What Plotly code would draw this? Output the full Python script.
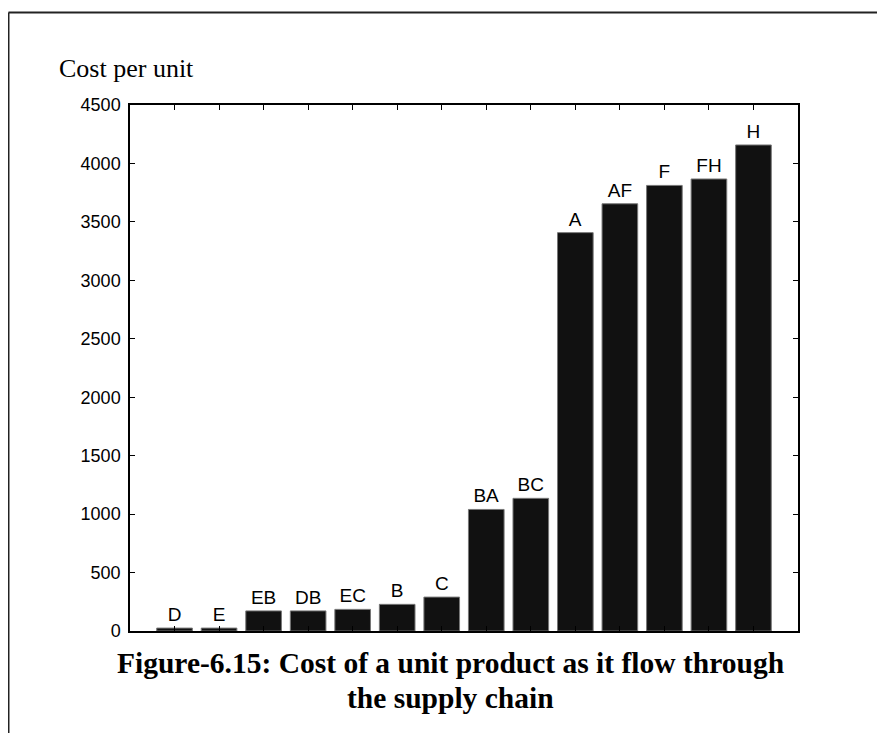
import plotly.graph_objects as go

categories = ["D", "E", "EB", "DB", "EC", "B", "C", "BA", "BC", "A", "AF", "F", "FH", "H"]
costs = [25, 25, 172, 172, 185, 228, 290, 1040, 1135, 3408, 3655, 3812, 3867, 4158]
positions = list(range(1, len(categories) + 1))
y_ticks = [0, 500, 1000, 1500, 2000, 2500, 3000, 3500, 4000, 4500]

y_title = "Cost per unit"
caption_line1 = "Figure-6.15: Cost of a unit product as it flow through"
caption_line2 = "the supply chain"

serif = "Liberation Serif, Times New Roman"
sans = "Liberation Sans, Arial"

fig = go.Figure()
fig.add_trace(go.Bar(
    x=positions, y=costs, width=0.8,
    text=categories, textposition="outside", cliponaxis=False,
    constraintext="none",
    textfont=dict(family=sans, size=19, color="black"),
    marker=dict(color="#111111", line=dict(color="#777777", width=1)),
    showlegend=False, hoverinfo="x+y",
))

fig.update_layout(
    width=877, height=725,
    margin=dict(l=122, r=87, t=97, b=102),
    paper_bgcolor="white", plot_bgcolor="white",
    xaxis=dict(range=[0, 15], tickvals=positions, showticklabels=False,
               ticks="inside", ticklen=5, tickcolor="black", tickwidth=1,
               showline=True, linecolor="black", linewidth=1.5, mirror="ticks",
               showgrid=False, zeroline=False, fixedrange=True),
    yaxis=dict(range=[0, 4500], tickvals=y_ticks, ticks="inside", ticklen=5,
               tickcolor="black", tickwidth=1,
               tickfont=dict(family=sans, size=18, color="black"),
               ticklabelstandoff=4,
               showline=True, linecolor="black", linewidth=1.5, mirror="ticks",
               showgrid=False, zeroline=False, fixedrange=True),
    annotations=[
        dict(text=y_title, xref="paper", yref="paper", x=-0.1093, y=1.0703,
             xanchor="left", yanchor="middle", showarrow=False,
             font=dict(family=serif, size=26, color="black")),
        dict(text="<b>" + caption_line1 + "</b>", xref="paper", yref="paper", x=0.4805, y=-0.0608,
             xanchor="center", yanchor="middle", showarrow=False,
             font=dict(family=serif, size=29.5, color="black")),
        dict(text="<b>" + caption_line2 + "</b>", xref="paper", yref="paper", x=0.4805, y=-0.1274,
             xanchor="center", yanchor="middle", showarrow=False,
             font=dict(family=serif, size=29.5, color="black")),
    ],
    shapes=[
        dict(type="line", xref="paper", yref="paper", x0=-0.1819, x1=-0.1819,
             y0=1.1759, y1=-0.20, line=dict(color="#222222", width=2)),
        dict(type="line", xref="paper", yref="paper", x0=-0.1819, x1=1.14,
             y0=1.1759, y1=1.1759, line=dict(color="#222222", width=2)),
    ],
)

fig.write_html("out.html")
